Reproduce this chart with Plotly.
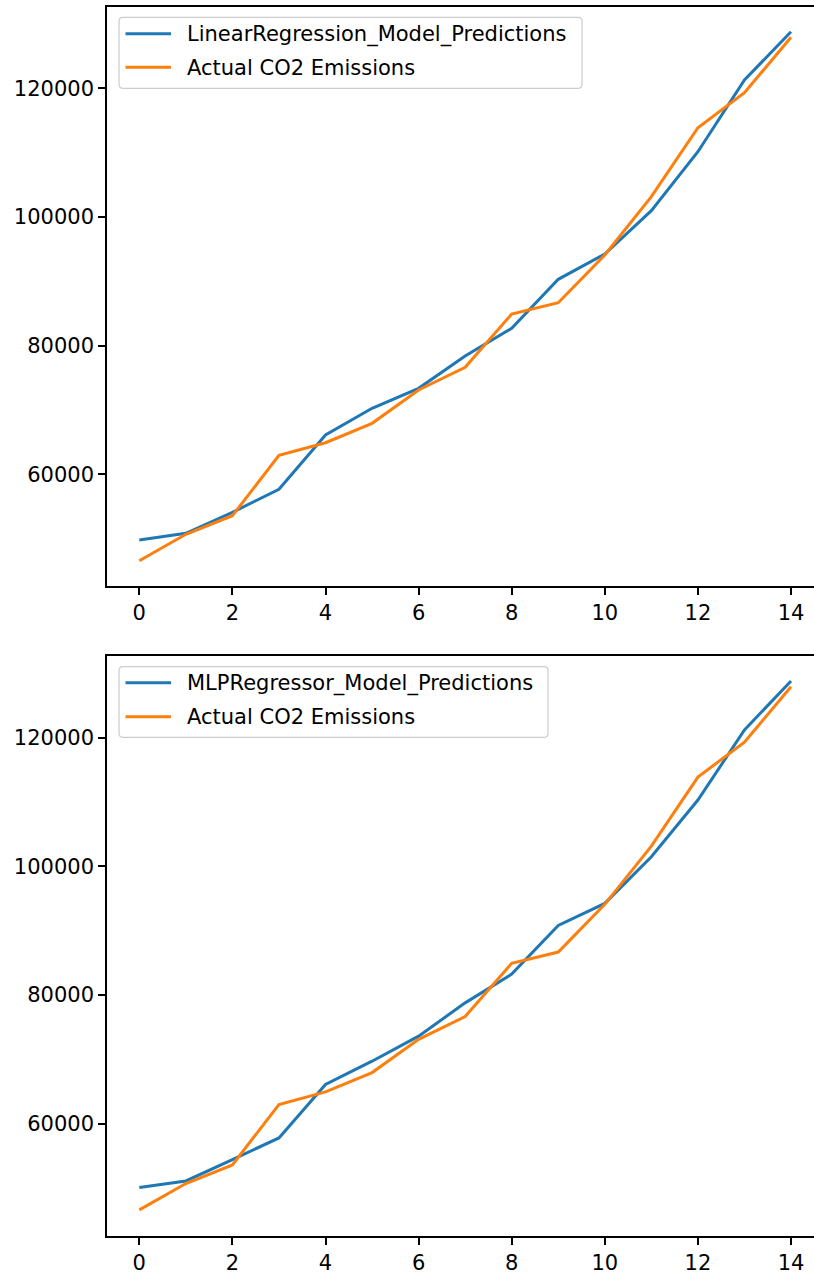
import plotly.graph_objects as go

# Year index of the test set
years = list(range(15))

# Observed CO2 emissions
actual_co2 = [46570, 50674, 53565, 62954, 64912, 67928, 73104, 76632,
              84917, 86674, 94088, 103150, 113876, 119316, 127927]

# Linear regression predictions
linear_pred = [49788, 50829, 54093, 57669, 66109, 70259, 73368, 78389,
               82694, 90311, 94243, 100974, 110145, 121290, 128798]

# MLP regressor predictions
mlp_pred = [50042, 51069, 54399, 57760, 66069, 69695, 73585, 78766,
            83232, 90809, 94233, 101484, 110306, 121198, 128823]

x_ticks = [0, 2, 4, 6, 8, 10, 12, 14]
y_ticks = [60000, 80000, 100000, 120000]

BLUE = "#1f77b4"
ORANGE = "#ff7f0e"
FONT = dict(family="DejaVu Sans", size=21, color="#000000")

W, H = 814, 1274
M_L, M_R, M_T, M_B = 107, 0, 7, 38
PW, PH = W - M_L - M_R, H - M_T - M_B


def px_x(px):
    return (px - M_L) / PW


def px_y(py):
    return (H - M_B - py) / PH


fig = go.Figure()

panels = [
    ("x", "y", "LinearRegression_Model_Predictions", linear_pred),
    ("x2", "y2", "MLPRegressor_Model_Predictions", mlp_pred),
]
for xa, ya, model_name, preds in panels:
    fig.add_trace(go.Scatter(x=years, y=preds, mode="lines", name=model_name,
                             line=dict(color=BLUE, width=3),
                             xaxis=xa, yaxis=ya, showlegend=False))
    fig.add_trace(go.Scatter(x=years, y=actual_co2, mode="lines",
                             name="Actual CO2 Emissions",
                             line=dict(color=ORANGE, width=3),
                             xaxis=xa, yaxis=ya, showlegend=False))

# Legend boxes (matplotlib-style: rounded frame, two entries)
legend_boxes = [
    # left, top, right, bottom (px), row centres (px), labels
    (119, 17.3, 582, 88.3, [33.7, 67.3],
     ["LinearRegression_Model_Predictions", "Actual CO2 Emissions"]),
    (119, 666.7, 548, 737.3, [682.7, 716.7],
     ["MLPRegressor_Model_Predictions", "Actual CO2 Emissions"]),
]
entry_colors = [BLUE, ORANGE]
r = 4
for left, top, right, bottom, rows, labels in legend_boxes:
    rx, ry = r / PW, r / PH
    x0, x1 = px_x(left), px_x(right)
    y0, y1 = px_y(bottom), px_y(top)
    path = (f"M{x0 + rx},{y1} L{x1 - rx},{y1} Q{x1},{y1} {x1},{y1 - ry} "
            f"L{x1},{y0 + ry} Q{x1},{y0} {x1 - rx},{y0} "
            f"L{x0 + rx},{y0} Q{x0},{y0} {x0},{y0 + ry} "
            f"L{x0},{y1 - ry} Q{x0},{y1} {x0 + rx},{y1} Z")
    fig.add_shape(type="path", path=path, xref="paper", yref="paper",
                  fillcolor="rgba(255,255,255,0.8)",
                  line=dict(color="#cccccc", width=1.2), layer="above")
    for row, label, col in zip(rows, labels, entry_colors):
        fig.add_shape(type="line", xref="paper", yref="paper",
                      x0=px_x(125.5), x1=px_x(171), y0=px_y(row), y1=px_y(row),
                      line=dict(color=col, width=3), layer="above")
        fig.add_annotation(text=label, xref="paper", yref="paper",
                           x=px_x(186), y=px_y(row + 0.5),
                           xanchor="left", yanchor="middle", showarrow=False,
                           font=FONT, borderpad=0)

x_common = dict(range=[-0.694, 14.494], tickvals=x_ticks, showgrid=False,
                zeroline=False, showline=True, mirror=True, linecolor="#000000",
                linewidth=1.6, ticks="outside", ticklen=7, tickwidth=1.6,
                tickcolor="#000000", tickfont=FONT)
y_common = dict(tickvals=y_ticks, tickformat="d", showgrid=False,
                zeroline=False, showline=True, mirror=False, linecolor="#000000",
                linewidth=1.6, ticks="outside", ticklen=7, tickwidth=1.6,
                tickcolor="#000000", tickfont=FONT)

fig.update_layout(
    width=W, height=H,
    margin=dict(l=M_L, r=M_R, t=M_T, b=M_B),
    paper_bgcolor="white", plot_bgcolor="white",
    font=FONT,
    xaxis=dict(domain=[0, 1], anchor="y", **x_common),
    yaxis=dict(domain=[px_y(586), 1.0], anchor="x", range=[42640, 132637], **y_common),
    xaxis2=dict(domain=[0, 1], anchor="y2", **x_common),
    yaxis2=dict(domain=[0.0, px_y(656)], anchor="x2", range=[42510, 132710], **y_common),
    showlegend=False,
)

fig.write_html("out.html")
